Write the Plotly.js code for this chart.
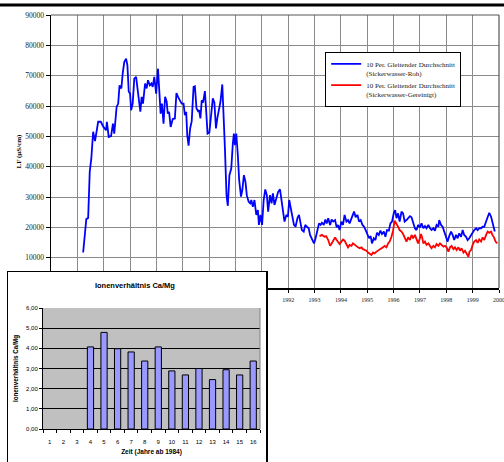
<!DOCTYPE html>
<html>
<head>
<meta charset="utf-8">
<script src="https://cdn.plot.ly/plotly-3.0.1.min.js"></script>
<style>
  html, body { margin: 0; padding: 0; background: #fff; }
  #wrap { position: relative; width: 504px; height: 462px; overflow: hidden; }
  #main { position: absolute; left: 0; top: 0; width: 504px; height: 462px; }
  #inset { position: absolute; left: 7px; top: 271px; width: 258px; height: 191px; background: #fff;
           border-left: 1px solid #000; border-top: 1px solid #000; border-right: 2px solid #000; }
</style>
</head>
<body>
<div id="wrap">
  <div id="main"></div>
  <div id="inset"></div>
</div>
<script>
// ---------- Main chart data: 10 Per. Gleitender Durchschnitt, LF (µS/cm) ----------
const rohYears = [
1984.22,1984.34,1984.41,1984.47,1984.53,1984.60,1984.67,1984.72,1984.79,1984.89,1984.99,1985.09,1985.12,1985.19,1985.28,1985.35,1985.40,1985.49,1985.55,1985.60,
1985.67,1985.72,1985.78,1985.85,1985.90,1985.95,1986.00,1986.04,1986.10,1986.16,1986.23,1986.29,1986.35,1986.39,1986.44,1986.49,1986.57,1986.63,1986.68,1986.75,
1986.81,1986.86,1986.92,1986.99,1987.06,1987.11,1987.16,1987.21,1987.27,1987.33,1987.39,1987.43,1987.48,1987.54,1987.62,1987.70,1987.76,1987.82,1987.90,1987.96,
1988.03,1988.08,1988.13,1988.17,1988.22,1988.28,1988.34,1988.41,1988.46,1988.52,1988.58,1988.62,1988.67,1988.72,1988.77,1988.84,1988.89,1988.94,1989.01,1989.08,
1989.14,1989.20,1989.26,1989.31,1989.37,1989.43,1989.50,1989.55,1989.60,1989.66,1989.71,1989.77,1989.84,1989.90,1989.94,1989.98,1990.03,1990.09,1990.14,1990.21,
1990.26,1990.32,1990.38,1990.43,1990.50,1990.56,1990.60,1990.66,1990.72,1990.79,1990.85,1990.89,1990.95,1991.01,1991.07,1991.13,1991.19,1991.24,1991.31,1991.37,
1991.42,1991.48,1991.56,1991.62,1991.69,1991.75,1991.81,1991.86,1991.93,1991.99,1992.04,1992.09,1992.16,1992.22,1992.28,1992.35,1992.41,1992.47,1992.52,1992.59,
1992.65,1992.71,1992.78,1992.83,1992.90,1992.98,1993.04,1993.11,1993.17,1993.23,1993.28,1993.35,1993.41,1993.46,1993.52,1993.59,1993.65,1993.71,1993.78,1993.84,
1993.89,1993.95,1994.02,1994.08,1994.14,1994.21,1994.27,1994.33,1994.40,1994.46,1994.50,1994.56,1994.63,1994.69,1994.75,1994.82,1994.88,1994.94,1995.01,1995.07,
1995.13,1995.18,1995.25,1995.31,1995.37,1995.44,1995.50,1995.56,1995.63,1995.69,1995.75,1995.82,1995.88,1995.94,1996.01,1996.06,1996.11,1996.17,1996.23,1996.30,
1996.36,1996.42,1996.49,1996.55,1996.62,1996.68,1996.74,1996.81,1996.87,1996.93,1997.00,1997.06,1997.13,1997.19,1997.25,1997.32,1997.38,1997.44,1997.51,1997.57,
1997.63,1997.70,1997.73,1997.80,1997.86,1997.92,1997.99,1998.05,1998.11,1998.18,1998.24,1998.30,1998.37,1998.43,1998.49,1998.56,1998.62,1998.68,1998.75,1998.81,
1998.87,1998.94,1999.00,1999.06,1999.13,1999.19,1999.25,1999.32,1999.38,1999.44,1999.51,1999.57,1999.63,1999.70,1999.75,1999.80,1999.84
];
const rohValues = [
11700,22700,23100,38300,42700,51500,48400,51500,54800,54800,53100,52000,54800,49800,50100,54200,50900,59700,60800,66800,
65800,70700,74500,75600,73400,64700,64100,58600,60800,69000,69600,65200,61900,58100,63000,60800,67400,65800,68500,66800,
67400,66300,69600,64100,72300,66300,57500,60800,54200,63000,61400,57500,58100,53100,55700,55900,64300,63000,61900,60800,
60800,57000,58100,50400,46900,52600,55000,66300,66500,59200,58300,58600,55900,61900,61100,64900,58100,50900,51300,58600,
62500,61100,52600,55900,59200,61400,67100,58100,46000,30600,27100,37200,39400,47600,50900,47100,50900,43800,35600,30100,
32300,37200,35000,30600,28400,27900,29000,26800,29000,24100,25700,20800,24100,20800,29000,32500,30600,25200,30600,27900,
31200,27400,29500,31700,32500,28400,25700,21900,24100,23500,29000,26800,24600,20800,20200,23000,24100,21300,19100,18600,
20800,20200,19700,17500,16400,14700,16400,19100,21300,20800,21500,20800,22600,21300,23000,20800,22600,21900,22400,20000,
20800,19100,21900,20800,24100,21900,22400,21300,23000,24600,25200,23300,24100,21900,22400,20800,20200,19100,17500,16400,
17100,14700,16400,15800,18200,17500,18900,17800,18600,16900,19100,18900,21300,21900,24800,25700,23000,24600,21900,25200,
24600,21900,22400,23000,23700,23300,21900,19700,19100,20800,20000,21300,19700,20400,19700,20800,19700,19100,19700,18900,
20800,20200,22400,20800,20200,18600,17500,15300,17100,18600,17500,15800,17500,16400,18000,16900,19100,17500,16900,15800,
16400,17500,18600,19100,19700,19100,19700,19700,20200,20200,21900,23500,24800,23500,21300,19700,18600
];
const gerYears = [
1993.19,1993.28,1993.38,1993.44,1993.52,1993.59,1993.65,1993.71,1993.78,1993.84,1993.89,1993.95,1994.02,1994.08,1994.14,1994.21,1994.27,1994.33,1994.40,1994.46,
1994.52,1994.59,1994.65,1994.71,1994.78,1994.84,1994.90,1994.97,1995.03,1995.09,1995.16,1995.22,1995.28,1995.35,1995.41,1995.47,1995.54,1995.60,1995.66,1995.73,
1995.79,1995.85,1995.92,1995.98,1996.04,1996.11,1996.17,1996.23,1996.30,1996.36,1996.42,1996.49,1996.55,1996.62,1996.68,1996.74,1996.81,1996.87,1996.93,1997.00,
1997.04,1997.09,1997.13,1997.19,1997.25,1997.32,1997.38,1997.44,1997.51,1997.57,1997.63,1997.70,1997.76,1997.82,1997.89,1997.95,1998.01,1998.08,1998.14,1998.20,
1998.27,1998.33,1998.39,1998.46,1998.52,1998.58,1998.65,1998.71,1998.77,1998.84,1998.88,1998.94,1999.00,1999.06,1999.13,1999.19,1999.25,1999.32,1999.38,1999.44,
1999.51,1999.57,1999.63,1999.70,1999.75,1999.81,1999.87,1999.93
];
const gerValues = [
17100,17500,16900,17100,15800,13900,14700,15800,16700,15800,15300,14500,15300,16000,15600,14200,13400,14200,13900,14700,
14200,13900,13400,13100,13400,12800,12500,12300,11700,11400,10900,11700,11400,12000,12300,12500,13100,13400,13900,13400,
14700,15300,16900,18900,22200,21300,20200,19100,18600,17800,16400,15300,16700,15800,17500,16400,17500,15800,14700,16400,
17800,16400,14700,15300,14200,14700,13900,13100,13900,13400,14500,13900,14700,14200,13600,13900,13400,12000,13400,13900,
12800,13400,12500,13400,12300,13100,11700,12300,11400,10300,12000,12500,14200,15300,15800,14900,16000,15300,16700,15800,
17500,18600,18200,18600,17500,16700,15300,14700
];
const seriesNames = [
  '10 Per. Gleitender Durchschnitt<br>(Sickerwasser-Roh)',
  '10 Per. Gleitender Durchschnitt<br>(Sickerwasser-Gereinigt)'
];
const tickYears = [1983,1984,1985,1986,1987,1988,1989,1990,1991,1992,1993,1994,1995,1996,1997,1998,1999,2000];
const tickYearLabels = ['','','','','','','','','','1992','1993','1994','1995','1996','1997','1998','1999','2000'];

// ---------- Inset data: Ionenverhältnis Ca/Mg ----------
const insetCategories = [1,2,3,4,5,6,7,8,9,10,11,12,13,14,15,16];
const insetRatios = [null,null,null,4.07,4.79,3.98,3.82,3.37,4.07,2.88,2.68,3.00,2.45,2.94,2.68,3.37];

const serif = 'Liberation Serif, Times New Roman, serif';
const sans = 'Liberation Sans, Arial, sans-serif';
const gridCol = '#8a8a8a';

Plotly.newPlot('main', [
  { x: rohYears, y: rohValues, type: 'scatter', mode: 'lines', name: seriesNames[0],
    line: { color: '#0000ff', width: 1.8 }, hoverinfo: 'skip' },
  { x: gerYears, y: gerValues, type: 'scatter', mode: 'lines', name: seriesNames[1],
    line: { color: '#ff0000', width: 1.8 }, hoverinfo: 'skip' }
], {
  width: 504, height: 462,
  margin: { l: 51, r: 5, t: 15, b: 174, pad: 0 },
  paper_bgcolor: '#ffffff', plot_bgcolor: '#ffffff',
  showlegend: true,
  legend: { x: 0.612, y: 0.865, xanchor: 'left', yanchor: 'top', bgcolor: '#ffffff',
            bordercolor: '#000000', borderwidth: 1, valign: 'top',
            font: { family: serif, size: 7, color: '#222' } },
  xaxis: { range: [1983, 2000.0001], tickmode: 'array', tickvals: tickYears, ticktext: tickYearLabels,
           showgrid: true, gridcolor: gridCol, gridwidth: 1, zeroline: false,
           showline: true, linecolor: '#000', linewidth: 2,
           ticks: 'outside', ticklen: 3, tickcolor: '#000', ticklabelstandoff: 2,
           ticklabeloverflow: 'allow',
           tickfont: { family: serif, size: 6, color: '#222' } },
  yaxis: { range: [0, 90000], dtick: 10000, tickformat: 'd',
           showgrid: true, gridcolor: gridCol, gridwidth: 1, zeroline: false,
           showline: true, linecolor: '#000', linewidth: 1.5,
           ticks: 'outside', ticklen: 4, tickcolor: '#000',
           tickfont: { family: serif, size: 7.5, color: '#222' },
           title: { text: 'LF (µS/cm)', standoff: 3, font: { family: serif, size: 7, color: '#000', weight: 'bold' } } },
  shapes: [
    { type: 'line', xref: 'paper', yref: 'paper', x0: 0, x1: 1, y0: 1, y1: 1, line: { color: '#555', width: 1 } },
    { type: 'line', xref: 'paper', yref: 'paper', x0: 1, x1: 1, y0: 0, y1: 1, line: { color: '#555', width: 1.2 } },
    { type: 'line', xref: 'paper', yref: 'paper', x0: -0.12, x1: 1.02, y0: 1.0366, y1: 1.0366, line: { color: '#000', width: 3 } }
  ]
}, { staticPlot: true });

const halfTicks = [];
for (let i = 0; i <= insetCategories.length; i++) halfTicks.push(insetCategories[0] - 0.5 + i);

Plotly.newPlot('inset', [
  { x: insetCategories, y: insetRatios, type: 'bar',
    marker: { color: '#9999ff', line: { color: '#000', width: 1 } }, hoverinfo: 'skip' }
], {
  width: 258, height: 191,
  margin: { l: 35, r: 6, t: 36, b: 34, pad: 0 },
  paper_bgcolor: '#ffffff', plot_bgcolor: '#c0c0c0',
  separators: ',.',
  showlegend: false,
  bargap: 0.54,
  title: { text: 'Ionenverhältnis Ca/Mg', x: 0.492, xanchor: 'center', y: 0.929, yanchor: 'middle',
           font: { family: sans, size: 7.5, color: '#000', weight: 'bold' } },
  xaxis: { range: [0.5, 16.5], tickmode: 'array', tickvals: insetCategories, ticks: '',
           showgrid: false, zeroline: false, showline: true, linecolor: '#000', linewidth: 1,
           minor: { tickmode: 'array', tickvals: halfTicks, ticks: 'outside', ticklen: 3, tickcolor: '#000', showgrid: false },
           ticklabelstandoff: 7,
           tickfont: { family: sans, size: 6, color: '#000' },
           title: { text: 'Zeit (Jahre ab 1984)', standoff: 5, font: { family: sans, size: 6.5, color: '#000', weight: 'bold' } } },
  yaxis: { range: [0, 6], dtick: 1, tickformat: '.2f',
           showgrid: true, gridcolor: '#000', gridwidth: 1, zeroline: false,
           showline: true, linecolor: '#000', linewidth: 1,
           ticks: 'outside', ticklen: 3, tickcolor: '#000',
           tickfont: { family: sans, size: 6, color: '#000' },
           title: { text: 'Ionenverhältnis Ca/Mg', standoff: 6, font: { family: sans, size: 6.3, color: '#000', weight: 'bold' } } },
  shapes: [
    { type: 'line', xref: 'paper', yref: 'paper', x0: 1, x1: 1, y0: 0, y1: 1, line: { color: '#808080', width: 1 } }
  ]
}, { staticPlot: true });
</script>
</body>
</html>
